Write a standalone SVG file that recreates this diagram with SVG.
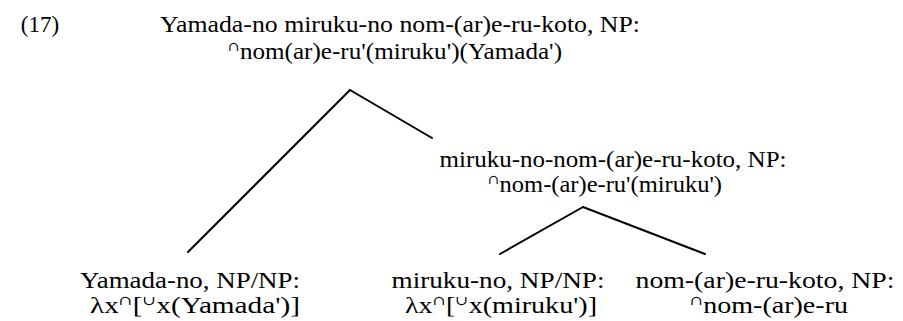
<svg xmlns="http://www.w3.org/2000/svg" width="903" height="321" viewBox="0 0 903 321">
<style>
.t{font-family:"Liberation Serif","DejaVu Serif",serif;font-size:23px;fill:#000;text-anchor:middle}
.op{font-family:"DejaVu Serif","Liberation Serif",serif;font-size:13px}
.edge{stroke:#000;stroke-width:2;fill:none;stroke-linecap:round}
</style>
<rect width="903" height="321" fill="#fff"/>
<g id="label17"><text class="t" x="40" y="32" font-family="Liberation Serif, serif">(17)</text></g>
<g id="root" font-family="Liberation Serif, serif">
<text class="t" x="400" y="32" textLength="480" lengthAdjust="spacingAndGlyphs">Yamada-no miruku-no nom-(ar)e-ru-koto, NP:</text>
<text class="t" x="395" y="59" textLength="334" lengthAdjust="spacingAndGlyphs"><tspan class="op" dy="-8">∩</tspan><tspan dy="8">nom(ar)e-ru'(miruku')(Yamada')</tspan></text>
</g>
<g id="mid" font-family="Liberation Serif, serif">
<text class="t" x="613" y="167" textLength="347" lengthAdjust="spacingAndGlyphs">miruku-no-nom-(ar)e-ru-koto, NP:</text>
<text class="t" x="605" y="192" textLength="234" lengthAdjust="spacingAndGlyphs"><tspan class="op" dy="-8">∩</tspan><tspan dy="8">nom-(ar)e-ru'(miruku')</tspan></text>
</g>
<g id="leaf1" font-family="Liberation Serif, serif">
<text class="t" x="190" y="288" textLength="220" lengthAdjust="spacingAndGlyphs">Yamada-no, NP/NP:</text>
<text class="t" x="195" y="313" textLength="210" lengthAdjust="spacingAndGlyphs">λx<tspan class="op" dy="-8">∩</tspan><tspan dy="8">[</tspan><tspan class="op" dy="-8">∪</tspan><tspan dy="8">x(Yamada')]</tspan></text>
</g>
<g id="leaf2" font-family="Liberation Serif, serif">
<text class="t" x="498" y="288" textLength="213" lengthAdjust="spacingAndGlyphs">miruku-no, NP/NP:</text>
<text class="t" x="501" y="313" textLength="192" lengthAdjust="spacingAndGlyphs">λx<tspan class="op" dy="-8">∩</tspan><tspan dy="8">[</tspan><tspan class="op" dy="-8">∪</tspan><tspan dy="8">x(miruku')]</tspan></text>
</g>
<g id="leaf3" font-family="Liberation Serif, serif">
<text class="t" x="765" y="288" textLength="259" lengthAdjust="spacingAndGlyphs">nom-(ar)e-ru-koto, NP:</text>
<text class="t" x="769" y="313" textLength="158" lengthAdjust="spacingAndGlyphs"><tspan class="op" dy="-8">∩</tspan><tspan dy="8">nom-(ar)e-ru</tspan></text>
</g>
<g id="connectors">
<line class="edge" x1="350" y1="90" x2="188" y2="252"/>
<line class="edge" x1="350" y1="90" x2="432" y2="138"/>
<line class="edge" x1="583" y1="207" x2="500" y2="254"/>
<line class="edge" x1="583" y1="207" x2="705" y2="254"/>
</g>
</svg>
